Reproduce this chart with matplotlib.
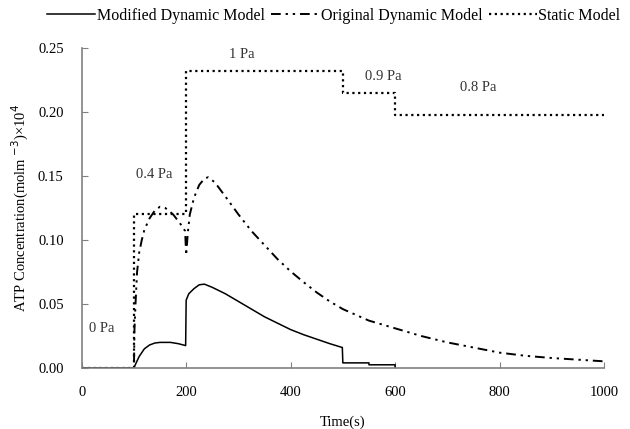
import matplotlib.pyplot as plt

# time points / concentrations (x10^4 mol m^-3)
mod_t = [0, 100, 102, 110, 120, 130, 140, 150, 170, 185, 199, 200, 205, 215, 225, 235,
         250, 275, 300, 325, 350, 375, 400, 425, 450, 475, 499, 500, 550, 550, 600, 600]
mod_c = [0, 0, 0.002, 0.009, 0.015, 0.018, 0.0195, 0.020, 0.020, 0.019, 0.0175, 0.053,
         0.058, 0.062, 0.065, 0.0655, 0.063, 0.058, 0.052, 0.046, 0.040, 0.035, 0.030,
         0.026, 0.0225, 0.019, 0.016, 0.004, 0.004, 0.0025, 0.0025, 0]

orig_t = [0, 100, 101, 103, 106, 110, 115, 120, 130, 140, 150, 160, 175, 190, 198, 200,
          203, 207, 215, 225, 235, 242, 255, 275, 300, 325, 350, 375, 400, 425, 450, 475,
          500, 550, 600, 650, 700, 750, 800, 850, 900, 950, 1000]
orig_c = [0, 0, 0.03, 0.05, 0.075, 0.09, 0.10, 0.108, 0.117, 0.123, 0.126, 0.125, 0.12,
          0.112, 0.107, 0.088, 0.105, 0.12, 0.133, 0.143, 0.148, 0.149, 0.145, 0.134,
          0.120, 0.107, 0.096, 0.085, 0.0755, 0.067, 0.059, 0.052, 0.046, 0.037, 0.031,
          0.025, 0.020, 0.016, 0.012, 0.0095, 0.0078, 0.0065, 0.0052]

static_t = [0, 100, 200, 500, 600, 1000]
static_c = [0, 0.12, 0.232, 0.215, 0.198, 0.198]

stress_labels = ['0 Pa', '0.4 Pa', '1 Pa', '0.9 Pa', '0.8 Pa']
stress_x = [38, 139, 307, 578, 759]
stress_y = [0.031, 0.151, 0.245, 0.228, 0.219]

plt.rcParams['font.family'] = ['Liberation Serif', 'DejaVu Serif']
plt.rcParams['font.size'] = 10.5

fig = plt.figure(figsize=(6.3, 4.29), dpi=100)
ax = fig.add_axes([0.1297, 0.1422, 0.829, 0.746])

ax.plot(mod_t, mod_c, color='black', lw=1.1, label='Modified Dynamic Model')
ax.plot(orig_t, orig_c, color='black', lw=1.4, dashes=(5, 2.5, 1.2, 2.5, 1.2, 2.5),
        label='Original Dynamic Model')
ax.plot(static_t, static_c, color='black', lw=1.6, drawstyle='steps-post',
        dashes=(1, 1.6), label='Static Model')

for lab, x, y in zip(stress_labels, stress_x, stress_y):
    ax.text(x, y, lab, ha='center', va='center', fontsize=10.5, color='#333333')

ax.set_xlim(0, 1000)
ax.set_ylim(0, 0.25)
ax.set_xticks([0, 200, 400, 600, 800, 1000])
ax.set_yticks([0, 0.05, 0.10, 0.15, 0.20, 0.25])
ax.set_yticklabels(['%.2f' % v for v in ax.get_yticks()])
ax.tick_params(axis='both', direction='in', length=4, pad=13, color='#808080')

for s in ['top', 'right']:
    ax.spines[s].set_visible(False)
for s in ['left', 'bottom']:
    ax.spines[s].set_color('#808080')
    ax.spines[s].set_linewidth(1.2)

ax.set_xlabel('Time(s)')
ax.xaxis.set_label_coords(0.5, -0.15)
ax.set_ylabel('ATP Concentration(molm $^{-3}$)×10$^4$')
ax.yaxis.set_label_coords(-0.098, 0.5)

fig.legend(loc='center', bbox_to_anchor=(0.53, 0.963), ncol=3, frameon=False,
           handlelength=3.0, handletextpad=0.1, columnspacing=0.4, fontsize=11.5)

fig.savefig('out.png', dpi=100)
